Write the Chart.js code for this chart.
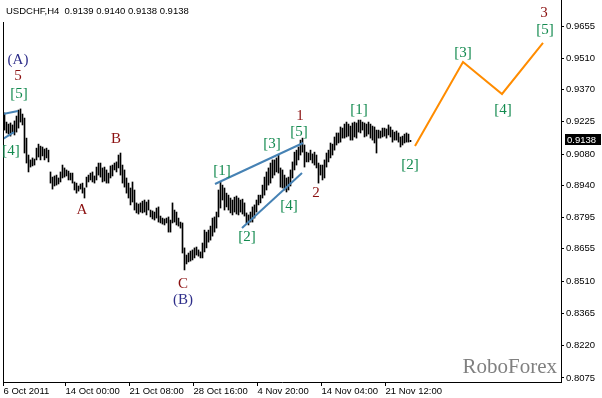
<!DOCTYPE html>
<html>
<head>
<meta charset="utf-8">
<script src="https://cdn.jsdelivr.net/npm/chart.js@4/dist/chart.umd.min.js"></script>
<style>
html,body{margin:0;padding:0;background:#fff;}
#wrap{width:602px;height:398px;position:relative;}
</style>
</head>
<body>
<div id="wrap"><canvas id="c" width="602" height="398"></canvas></div>
<script>
// ---- data ----
const barHigh = [
0.9265,0.9224,0.9215,0.9220,0.9211,0.9229,0.9251,0.9278,0.9283,0.9260,
0.9242,0.9152,0.9076,0.9054,0.9063,0.9058,0.9107,0.9125,0.9116,0.9112,
0.9103,0.9107,0.9098,0.9000,0.8977,0.8982,0.8986,0.8973,0.9000,0.9031,
0.9018,0.9009,0.9004,0.8995,0.8995,0.8955,0.8950,0.8937,0.8946,0.8950,
0.8928,0.8977,0.8986,0.8995,0.9000,0.8982,0.9022,0.9040,0.9040,0.9018,
0.9022,0.9009,0.8995,0.9027,0.9031,0.9040,0.9045,0.9076,0.9085,0.9031,
0.9009,0.8973,0.8950,0.8928,0.8955,0.8919,0.8861,0.8856,0.8861,0.8869,
0.8874,0.8865,0.8874,0.8829,0.8825,0.8820,0.8838,0.8843,0.8802,0.8793,
0.8789,0.8793,0.8798,0.8784,0.8861,0.8829,0.8820,0.8793,0.8775,0.8771,
0.8659,0.8627,0.8636,0.8645,0.8650,0.8659,0.8663,0.8650,0.8641,0.8681,
0.8739,0.8730,0.8739,0.8757,0.8793,0.8798,0.8820,0.8919,0.8955,0.8941,
0.8928,0.8905,0.8896,0.8883,0.8874,0.8887,0.8892,0.8883,0.8874,0.8878,
0.8861,0.8816,0.8807,0.8820,0.8843,0.8852,0.8874,0.8896,0.8896,0.8941,
0.8977,0.9000,0.9018,0.9040,0.9054,0.9054,0.9063,0.9076,0.9018,0.9009,
0.8986,0.8973,0.8977,0.9009,0.9045,0.9089,0.9098,0.9112,0.9143,0.9152,
0.9121,0.9089,0.9085,0.9098,0.9081,0.9089,0.9076,0.9040,0.9031,0.9031,
0.9054,0.9085,0.9098,0.9130,0.9125,0.9157,0.9175,0.9175,0.9202,0.9197,
0.9215,0.9224,0.9215,0.9206,0.9220,0.9224,0.9220,0.9233,0.9233,0.9224,
0.9220,0.9215,0.9224,0.9215,0.9206,0.9202,0.9188,0.9188,0.9184,0.9197,
0.9197,0.9193,0.9211,0.9202,0.9188,0.9179,0.9184,0.9175,0.9157,0.9161,
0.9170,0.9175,0.9170,0.9142
];
const barLow = [
0.9188,0.9175,0.9170,0.9161,0.9175,0.9166,0.9179,0.9197,0.9224,0.9211,
0.9085,0.9040,0.9000,0.9022,0.9027,0.9031,0.9054,0.9067,0.9054,0.9072,
0.9054,0.9063,0.9045,0.8950,0.8923,0.8937,0.8941,0.8946,0.8955,0.8973,
0.8977,0.8982,0.8964,0.8964,0.8950,0.8919,0.8905,0.8914,0.8923,0.8905,
0.8883,0.8932,0.8955,0.8964,0.8955,0.8950,0.8964,0.8986,0.8977,0.8955,
0.8959,0.8950,0.8950,0.8973,0.8982,0.9009,0.9000,0.9018,0.8986,0.8950,
0.8932,0.8905,0.8883,0.8852,0.8865,0.8829,0.8816,0.8811,0.8820,0.8816,
0.8820,0.8807,0.8829,0.8798,0.8789,0.8784,0.8793,0.8775,0.8771,0.8766,
0.8762,0.8771,0.8730,0.8730,0.8771,0.8775,0.8762,0.8757,0.8748,0.8636,
0.8560,0.8587,0.8596,0.8600,0.8605,0.8614,0.8627,0.8622,0.8614,0.8614,
0.8641,0.8659,0.8685,0.8694,0.8712,0.8730,0.8748,0.8798,0.8838,0.8874,
0.8829,0.8843,0.8829,0.8816,0.8807,0.8820,0.8811,0.8807,0.8820,0.8811,
0.8802,0.8771,0.8762,0.8775,0.8775,0.8793,0.8820,0.8852,0.8861,0.8883,
0.8896,0.8919,0.8941,0.8950,0.8973,0.8986,0.9000,0.8995,0.8932,0.8928,
0.8919,0.8910,0.8919,0.8937,0.8973,0.9009,0.9031,0.9054,0.9076,0.9089,
0.9022,0.9045,0.9045,0.9054,0.9040,0.9031,0.9018,0.8950,0.8986,0.8964,
0.8973,0.9022,0.9045,0.9063,0.9076,0.9098,0.9121,0.9130,0.9134,0.9152,
0.9152,0.9157,0.9161,0.9143,0.9143,0.9157,0.9152,0.9179,0.9175,0.9188,
0.9157,0.9161,0.9170,0.9152,0.9143,0.9130,0.9085,0.9152,0.9152,0.9157,
0.9161,0.9152,0.9166,0.9157,0.9134,0.9143,0.9143,0.9134,0.9112,0.9121,
0.9130,0.9134,0.9134,0.9136
];
const lastPrice = 0.9138;
const titleText = "USDCHF,H4  0.9139 0.9140 0.9138 0.9138";

// forecast path (bar index, price)
const forecastX = [205.25, 229.25, 248.75, 269.25];
const forecastY = [0.9116, 0.9494, 0.9350, 0.9579];

// channel lines
const chanUpperX = [105.25, 149.25], chanUpperY = [0.8946, 0.9130];
const chanLowerX = [118.75, 148.75], chanLowerY = [0.8748, 0.8995];
const leftUpperX = [-0.75, 6.75], leftUpperY = [0.9260, 0.9274];
const leftLowerX = [-0.75, 4.75], leftLowerY = [0.9148, 0.9179];

// axis ticks
const yTickVals = [0.9655,0.9510,0.9370,0.9225,0.9080,0.8940,0.8795,0.8655,0.8510,0.8365,0.8220,0.8075];
const yTickLabels = ["0.9655","0.9510","0.9370","0.9225","0.9080","0.8940","0.8795","0.8655","0.8510","0.8365","0.8220","0.8075"];
const xTickPos = [-0.5, 30.5, 62.5, 94.5, 126.5, 158.5, 190.5];
const xTickLabels = ["6 Oct 2011","14 Oct 00:00","21 Oct 08:00","28 Oct 16:00","4 Nov 20:00","14 Nov 04:00","21 Nov 12:00"];

// wave labels: text, bar index, price, kind
const waveText  = ["(A)","5","[5]","[4]","B","A","C","(B)","[1]","[2]","[3]","[4]","[5]","1","2","[1]","[2]","[3]","[4]","[5]","3"];
const waveX     = [6.75,6.75,7.25,3.25,55.75,38.75,89.25,89.25,108.75,121.25,133.75,142.25,147.25,147.75,155.75,177.25,202.75,229.25,249.25,270.25,269.75];
const waveY     = [0.9503,0.9431,0.9350,0.9094,0.9148,0.8829,0.8497,0.8425,0.9004,0.8708,0.9125,0.8847,0.9179,0.9251,0.8905,0.9278,0.9031,0.9534,0.9278,0.9637,0.9714];
const waveKind  = ["n","r","g","g","r","r","r","n","g","g","g","g","g","r","r","g","g","g","g","g","r"];
const kindColor = {g:"#138a4f", r:"#8b1010", n:"#2e2e8a"};

const axisFont = {family:"Liberation Sans", size:9.5};

const overlay = {
  id:'overlay',
  afterDraw(chart){
    const ctx = chart.ctx, xs = chart.scales.x, ys = chart.scales.y, ca = chart.chartArea;
    ctx.save();
    // left frame line
    ctx.strokeStyle = '#000'; ctx.lineWidth = 1;
    ctx.beginPath(); ctx.moveTo(ca.left + 0.5, 22); ctx.lineTo(ca.left + 0.5, ca.bottom); ctx.stroke();
    // title
    ctx.fillStyle = '#000';
    ctx.font = '9.5px "Liberation Sans"';
    ctx.textBaseline = 'middle'; ctx.textAlign = 'left';
    ctx.fillText(titleText, 6, 11);
    // wave labels
    ctx.font = '15px "Liberation Serif"';
    ctx.textAlign = 'center';
    for (let i = 0; i < waveText.length; i++) {
      ctx.fillStyle = kindColor[waveKind[i]];
      ctx.fillText(waveText[i], xs.getPixelForValue(waveX[i]), ys.getPixelForValue(waveY[i]));
    }
    // watermark
    ctx.font = '21px "Liberation Serif"';
    ctx.fillStyle = '#808080';
    ctx.textAlign = 'right'; ctx.textBaseline = 'alphabetic';
    ctx.fillText('RoboForex', 557, 373);
    // current price box
    const py = Math.round(ys.getPixelForValue(lastPrice)) - 1;
    ctx.fillStyle = '#000';
    ctx.fillRect(ca.right + 4, py - 6, 602 - ca.right - 5, 11);
    ctx.fillStyle = '#fff';
    ctx.font = '9.5px "Liberation Sans"';
    ctx.textAlign = 'left'; ctx.textBaseline = 'middle';
    ctx.fillText(lastPrice.toFixed(4), ca.right + 6, py);
    ctx.restore();
  }
};

const bars = barHigh.map((h, i) => ({x: i, y: [barLow[i], h]}));
const pts = (xa, ya) => xa.map((x, i) => ({x: x, y: ya[i]}));
const lineDs = (xa, ya, color) => ({type:'line', data: pts(xa, ya), borderColor: color, borderWidth: 2,
  pointRadius: 0, tension: 0, fill: false, order: 1});

new Chart(document.getElementById('c'), {
  type: 'bar',
  data: {
    datasets: [
      {type:'bar', data: bars, backgroundColor:'#000', borderWidth:0, barThickness:1, order:2},
      lineDs(chanUpperX, chanUpperY, '#4682b4'),
      lineDs(chanLowerX, chanLowerY, '#4682b4'),
      lineDs(leftUpperX, leftUpperY, '#4682b4'),
      lineDs(leftLowerX, leftLowerY, '#4682b4'),
      lineDs(forecastX, forecastY, '#ff8c00')
    ]
  },
  options: {
    responsive: false,
    animation: false,
    devicePixelRatio: 1,
    layout: {padding: {left: 3, top: 0, right: 0, bottom: 0}},
    plugins: {legend: {display: false}, tooltip: {enabled: false}, title: {display: false}},
    scales: {
      x: {
        type: 'linear', min: -0.75, max: 278.25, offset: false, position: 'bottom',
        afterFit(s){ s.height = 16; s.paddingLeft = 0; s.paddingRight = 0; s.paddingTop = 0; s.paddingBottom = 0; },
        afterBuildTicks(s){ s.ticks = xTickPos.map(v => ({value: v})); },
        ticks: {autoSkip: false, maxRotation: 0, minRotation: 0, align: 'start', padding: 0,
          color: '#000', font: axisFont, callback: (v, i) => xTickLabels[i]},
        grid: {display: true, drawOnChartArea: false, drawTicks: true, tickLength: 4, color: '#000', offset: false},
        border: {display: true, color: '#000', width: 1}
      },
      y: {
        type: 'linear', position: 'right', min: 0.8057, max: 0.9772,
        afterFit(s){ s.width = 41; s.paddingTop = 0; s.paddingBottom = 0; s.paddingLeft = 0; s.paddingRight = 0; },
        afterBuildTicks(s){ s.ticks = yTickVals.map(v => ({value: v})); },
        ticks: {autoSkip: false, padding: 2, color: '#000', font: axisFont, callback: (v, i) => yTickLabels[i]},
        grid: {display: true, drawOnChartArea: false, drawTicks: true, tickLength: 3, color: '#000'},
        border: {display: true, color: '#000', width: 1}
      }
    }
  },
  plugins: [overlay]
});
</script>
</body>
</html>
